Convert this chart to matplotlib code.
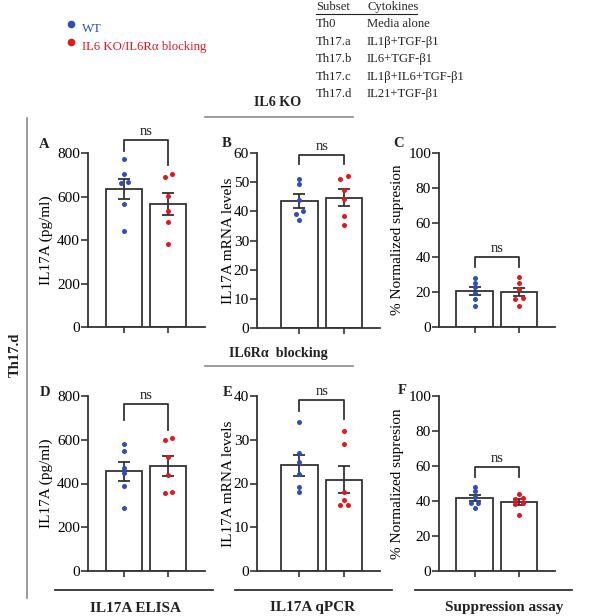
#!/usr/bin/env python3
"""Th17.d panel figure: IL6 KO / IL6Ra blocking vs WT (ELISA, qPCR, suppression)."""
import numpy as np
import matplotlib
matplotlib.use("Agg")
import matplotlib.pyplot as plt
from matplotlib.lines import Line2D

W, H = 600, 616
INK, GREY = "#333333", "#8a8a8a"
BLUE, RED = "#2e4fb8", "#e5161e"
plt.rcParams.update({"font.family": ["Liberation Serif", "DejaVu Serif"],
                     "font.size": 10, "text.color": "#222222"})

# ---- data (six replicates per group) ----
groups = ["WT", "IL6 KO/IL6R\u03b1 blocking"]
subsets = ["Th0", "Th17.a", "Th17.b", "Th17.c", "Th17.d"]
cytokines = ["Media alone", "IL1\u03b2+TGF-\u03b21", "IL6+TGF-\u03b21",
             "IL1\u03b2+IL6+TGF-\u03b21", "IL21+TGF-\u03b21"]

a_wt = [774, 705, 660, 665, 564, 443]
a_ko = [690, 705, 604, 535, 483, 382]
b_wt = [51.2, 49.5, 44.0, 40.2, 39.2, 37.1]
b_ko = [51.1, 52.2, 47.2, 44.2, 38.3, 35.2]
c_wt = [28.3, 25.5, 22.8, 19.5, 16.1, 11.9]
c_ko = [28.5, 25.3, 22.0, 16.7, 16.3, 12.3]
d_wt = [582, 549, 473, 449, 388, 289]
d_ko = [599, 608, 519, 438, 356, 360]
e_wt = [34.0, 27.0, 25.0, 22.1, 19.1, 18.1]
e_ko = [32.0, 29.0, 18.1, 16.2, 15.0, 15.0]
f_wt = [48.1, 45.9, 42.4, 39.0, 38.6, 36.1]
f_ko = [43.9, 41.8, 41.1, 38.6, 38.4, 31.9]

fig = plt.figure(figsize=(W / 100, H / 100), dpi=100)


def px_box(l, t, r, b):
    return [l / W, 1 - b / H, (r - l) / W, (b - t) / H]


def ftext(x, y, s, **kw):
    kw.setdefault("ha", "center")
    kw.setdefault("va", "center")
    return fig.text(x / W, 1 - y / H, s, **kw)


def fline(x1, x2, y1, y2, color=GREY, lw=1.2):
    fig.add_artist(Line2D([x1 / W, x2 / W], [1 - y1 / H, 1 - y2 / H],
                          transform=fig.transFigure, color=color, lw=lw))


def jitter(vals, thr, step=0.16):
    # spread near-equal values sideways, like Prism's scatter
    vals = np.asarray(vals, float)
    order = np.argsort(vals)
    offs = np.zeros(len(vals))
    clusters, cur = [], [order[0]]
    for i in order[1:]:
        if vals[i] - vals[cur[-1]] <= thr:
            cur.append(i)
        else:
            clusters.append(cur)
            cur = [i]
    clusters.append(cur)
    for c in clusters:
        n = len(c)
        for k, i in enumerate(c):
            offs[i] = (k - (n - 1) / 2) * step
    return offs


def panel(box, xlim, ymax, ystep, wt, ko, ylabel, letter, lab_x, bracket):
    ax = fig.add_axes(px_box(*box))
    ax.set_xlim(*xlim)
    ax.set_ylim(0, ymax)
    for s in ("top", "right"):
        ax.spines[s].set_visible(False)
    for s in ("left", "bottom"):
        ax.spines[s].set_color(INK)
        ax.spines[s].set_linewidth(1.3)
    ax.set_yticks(np.arange(0, ymax + ystep / 2, ystep))
    ax.set_xticks([0, 1])
    ax.set_xticklabels([])
    ax.tick_params(axis="y", length=4.7, width=1.2, pad=1.0, labelsize=11, color=INK)
    ax.tick_params(axis="x", length=4.5, width=1.2, color=INK)

    means = [np.mean(wt), np.mean(ko)]
    sems = [np.std(wt, ddof=1) / np.sqrt(len(wt)), np.std(ko, ddof=1) / np.sqrt(len(ko))]
    ax.bar([0, 1], means, width=0.82, color="white", edgecolor=INK, lw=1.3, zorder=1)
    ax.errorbar([0, 1], means, yerr=sems, fmt="none", ecolor=INK, elinewidth=1.3,
                capsize=4, capthick=1.3, zorder=2)
    thr = 0.02 * ymax
    for i, (vals, col) in enumerate([(wt, BLUE), (ko, RED)]):
        ax.scatter(i + jitter(vals, thr), vals, s=13, color=col, lw=0, zorder=3, clip_on=False)

    top, lb, rb = bracket
    ax.plot([0, 0, 1, 1], [lb, top, top, rb], color=INK, lw=1.3, clip_on=False, zorder=2)
    ax.annotate("ns", (0.5, top), xytext=(0, 1.5), textcoords="offset points",
                ha="center", va="bottom", fontsize=10.5, annotation_clip=False)

    ax.set_ylabel(ylabel, fontsize=11)
    ax.yaxis.set_label_coords((lab_x - box[0]) / (box[2] - box[0]), 0.5)
    ftext(letter[1], letter[2], letter[0], fontweight="bold", fontsize=10.5)
    return ax


col1, col2, col3 = (88, 205), (257, 380), (439, 555)
xl1, xl2, xl3 = (-0.82, 1.84), (-0.955, 1.81), (-0.80, 1.81)
lab_pg, lab_mrna, lab_sup = "IL17A (pg/ml)", "IL17A mRNA levels", "% Normalized supresion"

panel((col1[0], 153, col1[1], 327), xl1, 800, 200, a_wt, a_ko, lab_pg, ("A", 44, 144), 53, (860, 809, 745))
panel((col2[0], 153, col2[1], 328), xl2, 60, 10, b_wt, b_ko, lab_mrna, ("B", 227, 143), 235, (59.3, 56.1, 56.1))
panel((col3[0], 153, col3[1], 327), xl3, 100, 20, c_wt, c_ko, lab_sup, ("C", 399, 143), 404, (40.1, 34.7, 34.7))
panel((col1[0], 396, col1[1], 571), xl1, 800, 200, d_wt, d_ko, lab_pg, ("D", 45, 393), 53, (762, 690, 645))
panel((col2[0], 396, col2[1], 571), xl2, 40, 10, e_wt, e_ko, lab_mrna, ("E", 228, 393), 235, (39.1, 36.6, 34.7))
panel((col3[0], 396, col3[1], 571), xl3, 100, 20, f_wt, f_ko, lab_sup, ("F", 402, 391), 404, (59.6, 53.9, 53.9))

# ---- legend ----
for (y, name, col) in [(24, groups[0], BLUE), (42, groups[1], RED)]:
    fig.add_artist(Line2D([71 / W], [1 - y / H], transform=fig.transFigure, marker="o",
                          ms=4.5, color=col, lw=0))
    ftext(82, y + 5, name, ha="left", color=col, fontsize=9.2)

# ---- subset table ----
ftext(316, 7, "Subset", ha="left", fontsize=9.1)
ftext(367, 7, "Cytokines", ha="left", fontsize=9.1)
fline(316, 417, 14, 14, color="#222222", lw=0.8)
for k, (s, c) in enumerate(zip(subsets, cytokines)):
    y = 24 + 17.6 * k
    ftext(316, y, s, ha="left", fontsize=9.1)
    ftext(367, y, c, ha="left", fontsize=9.1)

# ---- group headers / footers ----
ftext(278, 103, "IL6 KO", fontweight="bold", fontsize=10.2)
fline(205, 353, 117, 117)
ftext(278, 353, "IL6R\u03b1  blocking", fontweight="bold", fontsize=10.2)
fline(205, 353, 366, 366)

fline(27, 27, 118, 598)
ftext(15, 355, "Th17.d", fontweight="bold", fontsize=10.5, rotation=90)

for (x1, x2) in [(55, 213), (235, 392), (415, 572)]:
    fline(x1, x2, 590, 590, color=INK, lw=1.3)
ftext(135, 608, "IL17A ELISA", fontweight="bold", fontsize=11)
ftext(313, 608, "IL17A qPCR", fontweight="bold", fontsize=11)
ftext(504, 608, "Suppression assay", fontweight="bold", fontsize=11)

fig.savefig("out.png", dpi=100)
